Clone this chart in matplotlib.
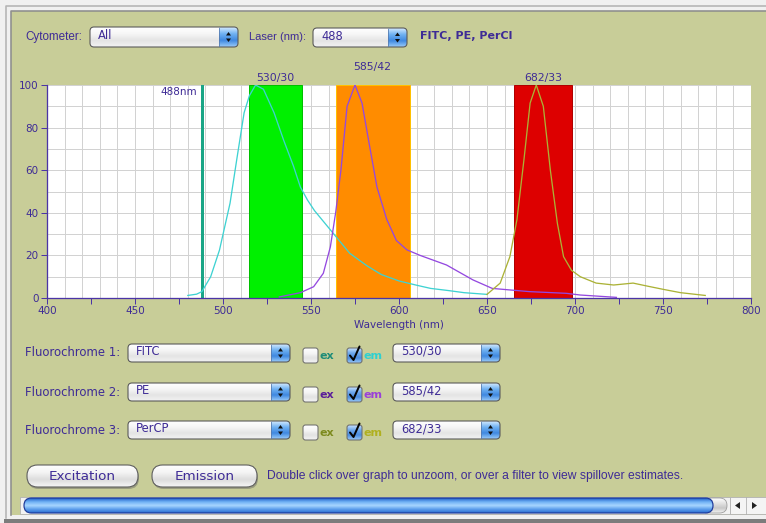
import matplotlib
matplotlib.use('Agg')
import matplotlib.pyplot as plt
import numpy as np
from matplotlib.patches import FancyBboxPatch, Rectangle, Polygon
from matplotlib.ticker import MultipleLocator, FuncFormatter
from matplotlib.colors import to_rgb

# ---------------- data ----------------
fitc_wl = [480, 485, 488, 493, 498, 504, 508, 512, 515, 518.5, 523, 529, 534.5, 540, 544,
           548, 552, 561, 572, 582, 590, 600, 610, 618, 628, 637, 650]
fitc_em = [1.2, 1.8, 3, 10, 22.5, 44.5, 66, 87, 95, 100, 98, 87, 74, 62, 52,
           46, 41, 32, 21, 15, 11, 8, 6, 4.5, 3.5, 2.5, 1.7]

pe_wl = [532, 544, 551.5, 557, 561, 564, 567, 570.5, 575, 579, 583, 587.5, 593, 598.5,
         604.5, 612, 627, 642, 653, 674, 695, 703, 723.5]
pe_em = [0.5, 2.5, 5.3, 11.6, 24, 40, 60, 90, 100, 91.5, 72.7, 52, 37, 27,
         22.6, 20, 15.5, 8.5, 4.5, 3, 2.2, 1.4, 0.3]

percp_wl = [650, 657.5, 663, 667, 671, 674.5, 678, 682, 686, 690, 693.5, 698, 703, 712,
            722, 733, 741, 750.5, 760, 774]
percp_em = [1.7, 7, 19.4, 36.7, 65, 91.5, 100, 90, 60, 35, 19.4, 13, 10, 7,
            6.1, 7, 5.6, 4, 2.5, 1.2]

filter_names = ['530/30', '585/42', '682/33']
filter_centers = [530, 585, 682]
filter_widths = [30, 42, 33]
laser_nm = 488
laser_label = '488nm'

fluor_names = ['FITC', 'PE', 'PerCP']
fluor_labels = ['Fluorochrome 1:', 'Fluorochrome 2:', 'Fluorochrome 3:']
x_ticks_major = [400, 450, 500, 550, 600, 650, 700, 750, 800]
y_ticks = [0, 20, 40, 60, 80, 100]

# ---------------- styles ----------------
W, H = 766, 523
PX = 0.72
INDIGO = '#3E2B96'
OLIVE = '#C8CD98'
filter_colors = ['#00F000', '#FF8C00', '#DD0000']
filter_edges = ['#00C000', '#FFC000', '#B00000']
curve_colors = ['#3ED2D2', '#9448E0', '#ABB236']
ex_colors = ['#1E8C78', '#5A1E9A', '#7D8A1E']
em_colors = ['#2ED0D0', '#9A40D8', '#B0B020']
label_offsets_pt = [0, 8, 0]

fig = plt.figure(figsize=(W / 100, H / 100), dpi=100, facecolor='#EEEEEE')
bg = fig.add_axes([0, 0, 1, 1])
bg.axis('off')

UI = 'DejaVu Sans'
NARROW = ['Liberation Sans Narrow', 'Liberation Sans', 'DejaVu Sans']


def rbox(x0, y0, x1, y1, r, fc='none', ec='none', lw=1.0, z=2):
    p = FancyBboxPatch((x0 + r, y0 + r), (x1 - x0) - 2 * r, (y1 - y0) - 2 * r,
                       boxstyle=f'round,pad={r}', fc=fc, ec=ec, lw=lw * PX, zorder=z)
    bg.add_patch(p)
    return p


def gradient(x0, y0, x1, y1, stops, clip, z=2):
    n = 64
    t = np.linspace(0, 1, n)
    cols = np.array([to_rgb(c) for c in stops])
    pos = np.linspace(0, 1, len(stops))
    arr = np.stack([np.interp(t, pos, cols[:, i]) for i in range(3)], axis=-1)[:, None, :]
    im = bg.imshow(arr, extent=(x0, x1, y1, y0), origin='upper', aspect='auto',
                   interpolation='bilinear', zorder=z)
    im.set_clip_path(clip)


def dropdown(x0, y0, x1, y1, text, stepw=19):
    clip = rbox(x0, y0, x1, y1, 4, z=1)
    gradient(x0, y0, x1, y1, ['#FFFFFF', '#F6F6F6', '#E4E4E4', '#F2F2F2'], clip, z=2)
    gradient(x1 - stepw, y0, x1, y1, ['#D4EAFF', '#70B2F2', '#3F88E0', '#9ACCFA'], clip, z=2.1)
    rbox(x0, y0, x1, y1, 4, ec='#5A5A5A', lw=1.1, z=3)
    bg.plot([x1 - stepw, x1 - stepw], [y0 + 1, y1 - 1], color='#557AAE', lw=0.8 * PX, zorder=3)
    cx, cy = x1 - stepw / 2, (y0 + y1) / 2
    bg.add_patch(Polygon([[cx - 2.5, cy - 1.5], [cx + 2.5, cy - 1.5], [cx, cy - 5]],
                         closed=True, fc='#101010', ec='none', zorder=4))
    bg.add_patch(Polygon([[cx - 2.5, cy + 1.5], [cx + 2.5, cy + 1.5], [cx, cy + 5]],
                         closed=True, fc='#101010', ec='none', zorder=4))
    bg.text(x0 + 8, cy - 1.5, text, fontsize=8.3, family=UI, color=INDIGO,
            ha='left', va='center', zorder=5)


def checkbox(x0, y0, checked):
    x1, y1 = x0 + 15, y0 + 15
    clip = rbox(x0, y0, x1, y1, 2.5, z=1)
    if checked:
        gradient(x0, y0, x1, y1, ['#C8E2FF', '#6EA8EC', '#4A8CE0', '#9ACAF8'], clip)
    else:
        gradient(x0, y0, x1, y1, ['#FFFFFF', '#F6F6F6', '#E2E2E2', '#F4F4F4'], clip)
    rbox(x0, y0, x1, y1, 2.5, ec='#6A6A6A', lw=1.0, z=3)
    if checked:
        bg.plot([x0 + 3, x0 + 6.5, x0 + 12.5], [y0 + 7.5, y0 + 12, y0 - 1.5],
                color='#050505', lw=2.0 * PX, zorder=5, solid_capstyle='round',
                solid_joinstyle='round')


def button(x0, y0, x1, y1, text):
    r = (y1 - y0) / 2 - 0.5
    rbox(x0 + 1, y0 + 2, x1 + 1, y1 + 2, r, fc='#9A9C80', z=1)
    clip = rbox(x0, y0, x1, y1, r, z=1)
    gradient(x0, y0, x1, y1, ['#FFFFFF', '#F4F4F4', '#DCDCDC', '#F6F6F6'], clip)
    rbox(x0, y0, x1, y1, r, ec='#5E5E5E', lw=1.1, z=3)
    bg.text((x0 + x1) / 2, (y0 + y1) / 2, text, fontsize=9.7, family=UI, color=INDIGO,
            ha='center', va='center', zorder=5)


# ---------------- window frame ----------------
bg.add_patch(Rectangle((0, 0), W, H, fc='#F0F0F0', ec='none', zorder=0))
bg.add_patch(Rectangle((11, 11), W - 11, 504, fc=OLIVE, ec='none', zorder=0.5))
bg.plot([6, 6, W], [518, 5.5, 5.5], color='#B4B4B4', lw=1.6 * PX, zorder=0.6)
bg.plot([11, 11, W], [515, 10.5, 10.5], color='#8E8E8E', lw=1.6 * PX, zorder=0.6)
bg.plot([6, W], [520.5, 520.5], color='#7C7C7C', lw=4 * PX, zorder=0.6)

# ---------------- top controls ----------------
bg.text(25, 37, 'Cytometer:', fontsize=8.4, family=NARROW, color=INDIGO, ha='left', va='center')
dropdown(90, 27, 238, 47, 'All')
bg.text(249, 37, 'Laser (nm):', fontsize=8.0, family=NARROW, color=INDIGO, ha='left', va='center')
dropdown(313, 28, 407, 47, str(laser_nm))
bg.text(420, 36, ', '.join(fluor_names[:2] + ['PerCl']), fontsize=8, family=UI,
        weight='bold', color=INDIGO, ha='left', va='center')

# ---------------- fluorochrome rows ----------------
row_centers = [353, 392, 430]
for i, cy in enumerate(row_centers):
    bg.text(25, cy, fluor_labels[i], fontsize=8.4, family=UI, color=INDIGO, ha='left', va='center')
    dropdown(128, cy - 9, 290, cy + 9, fluor_names[i])
    checkbox(303, cy - 5, False)
    bg.text(320, cy + 3, 'ex', fontsize=8, family=UI, weight='bold', color=ex_colors[i],
            ha='left', va='center')
    checkbox(347, cy - 5, True)
    bg.text(364, cy + 3, 'em', fontsize=8, family=UI, weight='bold', color=em_colors[i],
            ha='left', va='center')
    dropdown(393, cy - 9, 500, cy + 9, filter_names[i])

# ---------------- buttons + hint ----------------
button(27, 465, 138, 487, 'Excitation')
button(152, 465, 257, 487, 'Emission')
bg.text(267, 476, 'Double click over graph to unzoom, or over a filter to view spillover estimates.',
        fontsize=8.7, family=NARROW, color=INDIGO, ha='left', va='center')

# ---------------- scrollbar ----------------
bg.add_patch(Rectangle((20, 497), 710, 17, fc='#F2F2F2', ec='#B0B0B0', lw=0.8 * PX, zorder=1))
cap = rbox(700, 498, 727, 513, 7.5, z=1)
gradient(700, 498, 727, 513, ['#FFFFFF', '#E4E4E4', '#C8C8C8', '#F2F2F2'], cap)
rbox(700, 498, 727, 513, 7.5, ec='#9A9A9A', lw=0.8, z=2.5)
sb = rbox(24, 498, 713, 513, 7.5, z=1)
gradient(24, 498, 713, 513, ['#1E5FC8', '#6FB0F4', '#A8D6FF', '#5C9EEC', '#2A6CD0'], sb, z=2.6)
rbox(24, 498, 713, 513, 7.5, ec='#1E3A9A', lw=1.2, z=2.8)
bg.add_patch(Rectangle((730, 497), 36, 17, fc='#F4F4F4', ec='#B0B0B0', lw=0.8 * PX, zorder=1))
bg.plot([746, 746], [497, 514], color='#B0B0B0', lw=0.8 * PX, zorder=2)
bg.add_patch(Polygon([[735, 505.5], [740, 502], [740, 509]], closed=True, fc='#222222', zorder=3))
bg.add_patch(Polygon([[757, 505.5], [752, 502], [752, 509]], closed=True, fc='#222222', zorder=3))

bg.set_xlim(0, W)
bg.set_ylim(H, 0)

# ---------------- spectrum plot ----------------
ax = fig.add_axes([47 / W, 1 - 298 / H, 704 / W, 213 / H])
ax.set_facecolor('white')
ax.set_xlim(400, 800)
ax.set_ylim(0, 100)

ax.vlines(np.arange(410, 800, 10), 0, 100, color='#D2D2D2', lw=1.0 * PX, zorder=1)
ax.hlines(np.arange(10, 101, 10), 400, 800, color='#D2D2D2', lw=1.0 * PX, zorder=1)

for c, w, col, ecol, name, off in zip(filter_centers, filter_widths, filter_colors,
                                      filter_edges, filter_names, label_offsets_pt):
    ax.add_patch(Rectangle((c - w / 2, 0), w, 100, fc=col, ec=ecol, lw=1.0 * PX, zorder=2))
    ax.annotate(name, xy=(c, 100), xytext=(0, 5 + off), textcoords='offset points',
                ha='center', va='center', fontsize=7.8, family=UI, color=INDIGO,
                annotation_clip=False)

ax.axvline(laser_nm, color='#1AA586', lw=3 * PX, zorder=3)
ax.text(laser_nm - 2.7, 96.7, laser_label, ha='right', va='center', fontsize=7.5,
        family=UI, color=INDIGO, zorder=5)

for wl, em, col in zip([fitc_wl, pe_wl, percp_wl], [fitc_em, pe_em, percp_em], curve_colors):
    ax.plot(wl, em, color=col, lw=1.3 * PX, zorder=4)

for s in ['top', 'right']:
    ax.spines[s].set_visible(False)
for s in ['left', 'bottom']:
    ax.spines[s].set_color('#4B34A6')
    ax.spines[s].set_linewidth(1.3 * PX)
    ax.spines[s].set_zorder(6)

ax.xaxis.set_major_locator(MultipleLocator(25))
ax.xaxis.set_major_formatter(FuncFormatter(lambda v, p: f'{int(round(v))}' if int(round(v)) in x_ticks_major else ''))
ax.set_yticks(y_ticks)
ax.tick_params(axis='both', direction='out', length=4, width=1.0 * PX, color='#4B34A6',
               labelcolor=INDIGO, labelsize=7.5, pad=2)
for lab in ax.get_xticklabels() + ax.get_yticklabels():
    lab.set_family(UI)
ax.set_xlabel('Wavelength (nm)', fontsize=7.5, family=UI, color=INDIGO, labelpad=3)

fig.savefig('out.png', dpi=100, facecolor=fig.get_facecolor())
